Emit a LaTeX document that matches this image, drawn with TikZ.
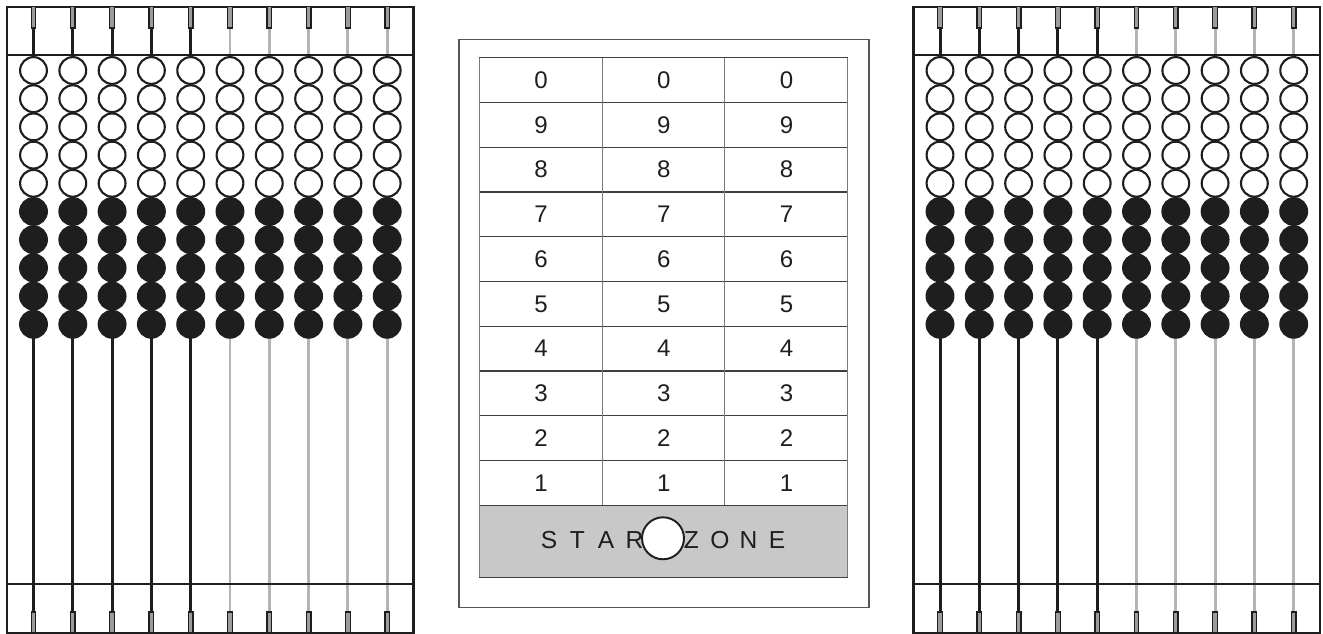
\documentclass[tikz,border=0pt]{standalone}
\usepackage{fontspec}
\setmainfont{Liberation Sans}
\usepackage{tikz}
\definecolor{cink}{HTML}{1E1E1E}
\definecolor{crodg}{HTML}{B4B4B4}
\definecolor{cslot}{HTML}{9C9C9C}
\definecolor{cpanel}{HTML}{555555}
\definecolor{cgrid}{HTML}{7A7A7A}
\definecolor{czone}{HTML}{C8C8C8}
\tikzset{
  frm/.style={draw=cink,line width=1.2pt},
  slot/.style={draw=cink,fill=cslot,line width=0.7pt},
  rod/.style={line width=1.7pt},
  bead/.style={circle,draw=cink,line width=1.2pt,inner sep=0pt,minimum size=5.36mm},
  digit/.style={font=\fontsize{13.7}{16}\selectfont,text=cink,inner sep=0pt},
}

\begin{document}
\begin{tikzpicture}[
  x=0.02cm, y=-0.02cm,
  panel/.style={draw=cpanel, line width=0.7pt},
  gridh/.style={draw=cink!85, line width=0.6pt},
  gridv/.style={draw=cgrid, line width=0.6pt},
  zlet/.style={font=\fontsize{14}{16}\selectfont, text=cink, inner sep=0pt},
  hole/.style={circle, draw=cink, fill=white, line width=1.1pt, inner sep=0pt, minimum size=8.4mm},
]
\useasboundingbox (0,0) rectangle (1323,634);

% ================= the two abacus frames =================
\foreach \ox/\a in {7/L, 913.5/R}{
  \draw[frm] (\ox,6.7) rectangle (\ox+406.5,633);
  \foreach \i in {0,...,9}{
    \pgfmathsetmacro\rx{\ox+26.5+39.3*\i}
    \ifnum\i<5 \def\rc{cink}\else\def\rc{crodg}\fi
    \draw[rod,draw=\rc] (\rx,28) -- (\rx,612);
    \draw[slot] (\rx-2.3,6.7) rectangle (\rx+2.3,28);
    \draw[slot] (\rx-2.3,612) rectangle (\rx+2.3,633);
    % beads: five open, five filled
    \foreach \j in {0,...,9}{
      \ifnum\j<5 \def\bc{white}\else\def\bc{cink}\fi
      \node[bead,fill=\bc] (b\a-\i-\j) at (\rx,70.5+28.2*\j) {};
    }
  }
  \draw[frm] (\ox,55) -- (\ox+406.5,55);
  \draw[frm] (\ox,584) -- (\ox+406.5,584);
}

% ================= number panel =================
\draw[panel] (459,39.3) rectangle (869,607.7);
\fill[czone] (479.3,505.3) rectangle (847.7,577.3);
\foreach \k in {0,...,10}{
  \draw[gridh] (479.3,57.7+44.76*\k) -- (847.7,57.7+44.76*\k);
}
\draw[gridh] (479.3,577.3) -- (847.7,577.3);
\draw[gridv] (479.3,57.7) -- (479.3,577.3);
\draw[gridv] (847.7,57.7) -- (847.7,577.3);
\draw[gridv] (602.1,57.7) -- (602.1,505.3);
\draw[gridv] (724.9,57.7) -- (724.9,505.3);

\foreach \d [count=\r from 0] in {0,9,8,7,6,5,4,3,2,1}{
  \foreach \c in {0,1,2}{
    \node[digit] (n-\r-\c) at (541+122.8*\c,80.1+44.76*\r) {\d};
  }
}

% ================= star zone =================
\foreach \ch/\k in {S/0,T/1,A/2,R/3,Z/5,O/6,N/7,E/8}{
  \node[zlet] (z\k) at (549+28.5*\k,540) {\ch};
}
\node[hole] (start) at (663,538.3) {};
\end{tikzpicture}
\end{document}
